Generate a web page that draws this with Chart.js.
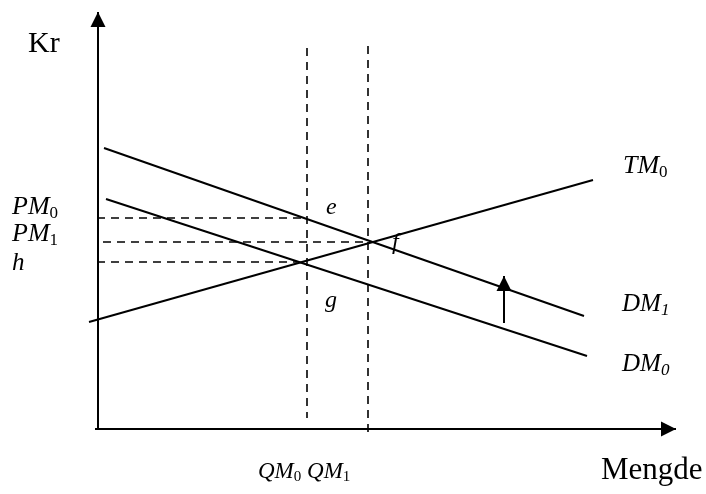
<!DOCTYPE html>
<html>
<head>
<meta charset="utf-8">
<script src="https://cdn.jsdelivr.net/npm/chart.js@4.4.1/dist/chart.umd.min.js"></script>
<style>
  html, body { margin: 0; padding: 0; background: #fff; }
  #wrap { width: 706px; height: 494px; }
</style>
</head>
<body>
<div id="wrap"><canvas id="diagram"></canvas></div>
<script>
// quantity (x) and price (y), measured from the origin of the axes
const yAxisLine = [{ x: 0, y: 0 }, { x: 0, y: 417 }];
const xAxisLine = [{ x: -3, y: 0 }, { x: 578, y: 0 }];

// supply curve and the two demand curves
const tm0 = [{ x: -9, y: 107 }, { x: 495, y: 249 }];
const dm1 = [{ x: 6, y: 281 }, { x: 486, y: 113 }];
const dm0 = [{ x: 8, y: 230 }, { x: 489, y: 73 }];

// quantities QM0 / QM1 and prices PM0 / PM1 / h
const qm0 = 209;
const qm1 = 270;
const pm0 = 211;
const pm1 = 187;
const hPrice = 167;

// shift of demand from DM0 to DM1
const shiftArrow = [{ x: 406, y: 106 }, { x: 406, y: 153 }];

const guideQm0 = [{ x: qm0, y: 381 }, { x: qm0, y: 11 }];
const guideQm1 = [{ x: qm1, y: 383 }, { x: qm1, y: -3 }];
const guidePm0 = [{ x: -1, y: pm0 }, { x: qm0, y: pm0 }];
const guidePm1 = [{ x: 5, y: pm1 }, { x: qm1, y: pm1 }];
const guideH = [{ x: -1, y: hPrice }, { x: 199, y: hPrice }];

// text pieces: [text, style] where style is "i" italic, "r" roman, "s" subscript, "si" italic subscript
const textLabels = [
  { at: { x: -70, y: 377 }, size: 30, parts: [["Kr", "r"]] },
  { at: { x: -86, y: 215 }, size: 26, parts: [["PM", "i"], ["0", "s"]] },
  { at: { x: -86, y: 188 }, size: 26, parts: [["PM", "i"], ["1", "s"]] },
  { at: { x: -86, y: 159 }, size: 25, parts: [["h", "i"]] },
  { at: { x: 228, y: 215 }, size: 24, parts: [["e", "i"]] },
  { at: { x: 294, y: 180 }, size: 24, parts: [["f", "i"]] },
  { at: { x: 227, y: 122 }, size: 24, parts: [["g", "i"]] },
  { at: { x: 525, y: 256 }, size: 26, parts: [["TM", "i"], ["0", "s"]] },
  { at: { x: 524, y: 118 }, size: 25, parts: [["DM", "i"], ["1", "si"]] },
  { at: { x: 524, y: 58 }, size: 25, parts: [["DM", "i"], ["0", "si"]] },
  { at: { x: 160, y: -49 }, size: 23, parts: [["QM", "i"], ["0", "s"], [" ", "r"], ["QM", "i"], ["1", "s"]] },
  { at: { x: 503, y: -50 }, size: 31, parts: [["Mengde", "r"]] }
];

const serif = "'Liberation Serif', 'DejaVu Serif', serif";

function solid(data, extra) {
  return Object.assign({
    data: data,
    showLine: true,
    borderColor: "#000",
    borderWidth: 2,
    pointRadius: 0,
    fill: false
  }, extra || {});
}

function dashed(data) {
  return solid(data, { borderWidth: 1.6, borderDash: [8, 6] });
}

// filled arrowhead at the last point of datasets flagged with arrow: true
const arrowHeads = {
  id: "arrowHeads",
  afterDatasetsDraw(chart) {
    const ctx = chart.ctx;
    chart.data.datasets.forEach((ds, i) => {
      if (!ds.arrow) return;
      const pts = chart.getDatasetMeta(i).data;
      const a = pts[pts.length - 2];
      const b = pts[pts.length - 1];
      const ang = Math.atan2(b.y - a.y, b.x - a.x);
      const len = 15;
      const half = 7.5;
      ctx.save();
      ctx.translate(b.x, b.y);
      ctx.rotate(ang);
      ctx.fillStyle = "#000";
      ctx.beginPath();
      ctx.moveTo(0, 0);
      ctx.lineTo(-len, -half);
      ctx.lineTo(-len, half);
      ctx.closePath();
      ctx.fill();
      ctx.restore();
    });
  }
};

// labels with subscripts
const richText = {
  id: "richText",
  afterDraw(chart) {
    const ctx = chart.ctx;
    const xs = chart.scales.x;
    const ys = chart.scales.y;
    ctx.save();
    ctx.fillStyle = "#000";
    ctx.textBaseline = "alphabetic";
    ctx.textAlign = "left";
    textLabels.forEach(lb => {
      let px = xs.getPixelForValue(lb.at.x);
      const py = ys.getPixelForValue(lb.at.y);
      lb.parts.forEach(([t, st]) => {
        let size = lb.size;
        let dy = 0;
        let style = "";
        if (st === "i") style = "italic ";
        if (st === "s" || st === "si") {
          size = Math.round(lb.size * 0.66);
          dy = Math.round(lb.size * 0.14);
          if (st === "si") style = "italic ";
        }
        ctx.font = style + size + "px " + serif;
        ctx.fillText(t, px, py + dy);
        px += ctx.measureText(t).width;
      });
    });
    ctx.restore();
  }
};

new Chart(document.getElementById("diagram"), {
  type: "scatter",
  data: {
    datasets: [
      solid(yAxisLine, { arrow: true }),
      solid(xAxisLine, { arrow: true }),
      solid(tm0),
      solid(dm1),
      solid(dm0),
      solid(shiftArrow, { arrow: true }),
      dashed(guideQm0),
      dashed(guideQm1),
      dashed(guidePm0),
      dashed(guidePm1),
      dashed(guideH)
    ]
  },
  options: {
    responsive: true,
    maintainAspectRatio: false,
    animation: false,
    layout: { padding: 0 },
    plugins: {
      legend: { display: false },
      tooltip: { enabled: false }
    },
    scales: {
      x: { type: "linear", min: -98, max: 608, display: false },
      y: { type: "linear", min: -65, max: 429, display: false }
    }
  },
  plugins: [arrowHeads, richText]
});
</script>
</body>
</html>
